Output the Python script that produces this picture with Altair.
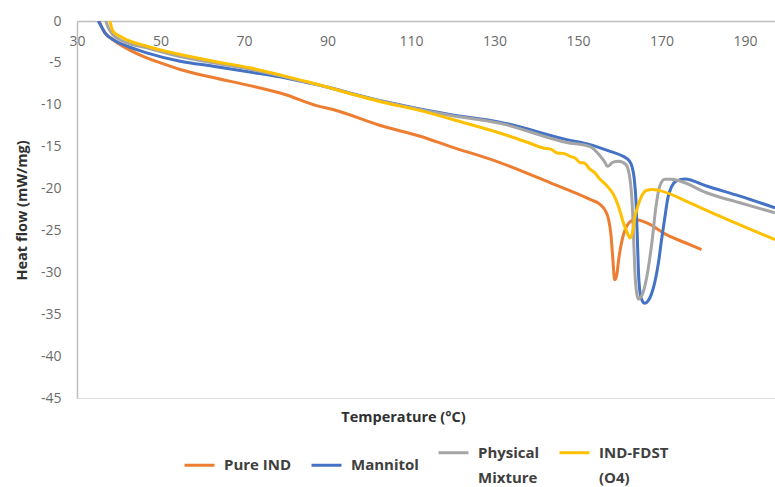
import altair as alt
import pandas as pd

# ---- data ----
series_names = ["Pure IND", "Mannitol", "Physical Mixture", "IND-FDST (O4)"]
series_colors = ["#ED7D31", "#4472C4", "#A5A5A5", "#FFC000"]

pure_temp = [35.3, 36.5, 38.0, 39.1, 42.0, 46.7, 50.0, 54.7, 62.6, 71.4, 80.0, 87.4, 91.3,
             103.3, 112.2, 119.3, 131.3, 143.3, 152.9, 155.3, 156.5, 157.3, 157.9, 158.3,
             158.8, 159.3, 159.8, 160.5, 161.3, 162.2, 163.7, 166.5, 171.2, 176.8, 179.6]
pure_heat = [0.0, -1.3, -2.0, -2.41, -3.3, -4.4, -5.0, -5.79, -6.75, -7.71, -8.8, -10.1, -10.57,
             -12.57, -13.76, -14.96, -16.9, -19.3, -21.3, -21.9, -22.6, -23.6, -25.5, -28.0,
             -30.9, -30.3, -28.3, -26.3, -24.9, -24.1, -23.7, -24.1, -25.5, -26.7, -27.3]

mann_temp = [35.1, 36.0, 36.7, 38.6, 42.0, 46.7, 54.7, 62.6, 71.4, 80.0, 87.4, 103.3, 119.3,
             131.3, 147.3, 152.9, 157.7, 160.8, 162.3, 162.9, 163.5, 163.9, 164.2, 164.5, 164.9,
             165.5, 166.0, 166.8, 167.6, 168.4, 169.3, 170.0, 170.8, 171.5, 172.4, 173.6, 175.6,
             180.8, 188.8, 197.2]
mann_heat = [0.0, -0.8, -1.41, -2.21, -3.0, -3.8, -4.8, -5.4, -6.09, -6.8, -7.59, -9.58, -11.17,
             -12.07, -14.16, -14.75, -15.56, -16.15, -16.7, -17.3, -18.9, -21.5, -25.5, -30.0, -32.5,
             -33.5, -33.7, -33.4, -32.6, -31.2, -28.8, -26.2, -23.5, -21.2, -19.8, -19.1, -18.85,
             -19.7, -20.9, -22.3]

phys_temp = [36.9, 37.5, 38.5, 40.5, 46.7, 54.7, 62.6, 71.4, 85.0, 103.3, 119.3, 131.3, 147.3,
             152.9, 155.3, 156.5, 157.0, 157.6, 158.2, 159.8, 161.5, 162.5, 163.1, 163.4, 163.7,
             164.1, 164.5, 165.0, 165.6, 166.5, 167.7, 168.7, 169.6, 170.8, 172.4, 174.4, 180.8,
             188.8, 197.2]
phys_heat = [0.0, -0.8, -1.6, -2.3, -3.2, -4.25, -5.0, -5.75, -7.3, -9.6, -11.25, -12.2, -14.5,
             -15.0, -16.1, -16.9, -17.35, -17.2, -16.9, -16.75, -17.15, -19.0, -22.9, -26.9, -30.5,
             -32.6, -33.2, -33.0, -32.4, -30.5, -26.5, -22.1, -19.7, -18.9, -18.9, -19.1, -20.5,
             -21.7, -22.9]

fdst_temp = [37.9, 38.6, 41.0, 46.7, 54.7, 62.6, 71.4, 85.0, 103.3, 112.2, 121.7, 133.7, 138.0,
             141.7, 143.5, 145.0, 146.5, 148.1, 149.3, 150.5, 151.5, 152.9, 154.0, 155.3, 156.9,
             158.5, 159.7, 160.9, 161.7, 162.5, 163.2, 163.6, 164.1, 164.9, 166.5, 167.8, 169.6,
             176.8, 180.8, 197.2]
fdst_heat = [0.0, -1.22, -2.01, -3.01, -4.0, -4.8, -5.59, -7.23, -9.7, -10.7, -12.0, -13.76, -14.5,
             -15.15, -15.3, -15.75, -15.8, -16.15, -16.35, -16.9, -16.95, -17.7, -18.1, -18.9, -19.65,
             -20.7, -22.1, -24.1, -25.15, -25.9, -24.9, -23.5, -22.5, -21.3, -20.2, -20.1, -20.25,
             -21.7, -22.6, -26.1]

x_ticks = [30, 50, 70, 90, 110, 130, 150, 170, 190]
y_ticks = [0, -5, -10, -15, -20, -25, -30, -35, -40, -45]

rows = []
for name, temps, heats in [
    (series_names[0], pure_temp, pure_heat),
    (series_names[1], mann_temp, mann_heat),
    (series_names[2], phys_temp, phys_heat),
    (series_names[3], fdst_temp, fdst_heat),
]:
    for i, (t, h) in enumerate(zip(temps, heats)):
        rows.append({"series": name, "temp": t, "heat": h, "idx": i})
df = pd.DataFrame(rows)

FONT = "Open Sans"

label_expr = ("datum.label == 'Physical Mixture' ? ['Physical', 'Mixture'] : "
              "datum.label == 'IND-FDST (O4)' ? ['IND-FDST', '(O4)'] : datum.label")

chart = alt.Chart(df).mark_line(strokeWidth=3, interpolate="monotone", clip=True).encode(
    x=alt.X("temp:Q",
            scale=alt.Scale(domain=[30, 197.2], nice=False, zero=False),
            axis=alt.Axis(values=x_ticks, orient="bottom", offset=-377, ticks=False, tickSize=0,
                          grid=False, domainColor="#BFBFBF", domainWidth=1.5, labelFlush=False,
                          labelFont=FONT, labelFontSize=14, labelColor="#6b6b6b", labelPadding=13,
                          title="Temperature (°C)", titleFont=FONT, titleFontSize=14.5,
                          titleFontWeight="bold", titleColor="#303030",
                          titleX=326, titleY=400, titleBaseline="alphabetic", titleAlign="center")),
    y=alt.Y("heat:Q",
            scale=alt.Scale(domain=[-45, 0], nice=False, zero=False),
            axis=alt.Axis(values=y_ticks, ticks=False, tickSize=0, grid=False, labelFlush=False,
                          domainColor="#BFBFBF", domainWidth=1.5,
                          labelExpr="datum.value + ''",
                          labelFont=FONT, labelFontSize=14, labelColor="#6b6b6b", labelPadding=16,
                          title="Heat flow (mW/mg)", titleFont=FONT, titleFontSize=14.5,
                          titleFontWeight="bold", titleColor="#303030",
                          titleX=-55, titleY=189, titleAngle=270,
                          titleBaseline="middle", titleAlign="center")),
    color=alt.Color("series:N",
                    scale=alt.Scale(domain=series_names, range=series_colors),
                    legend=alt.Legend(orient="none", legendX=106, legendY=415,
                                      direction="horizontal", title=None,
                                      symbolType="stroke", symbolStrokeWidth=3, symbolSize=900,
                                      labelFont=FONT, labelFontSize=15, labelFontWeight="bold",
                                      labelColor="#404040", labelOffset=8, columnPadding=13,
                                      labelLimit=200, labelExpr=label_expr)),
    order=alt.Order("idx:Q"),
).properties(
    width=698,
    height=377,
    autosize=alt.AutoSizeParams(type="none"),
    padding={"left": 77, "top": 21, "right": 0, "bottom": 89},
).configure_view(stroke=None).configure(
    background="white",
    style={"guide-label": {"lineHeight": 25}},
)

chart.save("out.html", embed_options={"renderer": "svg", "actions": False})
